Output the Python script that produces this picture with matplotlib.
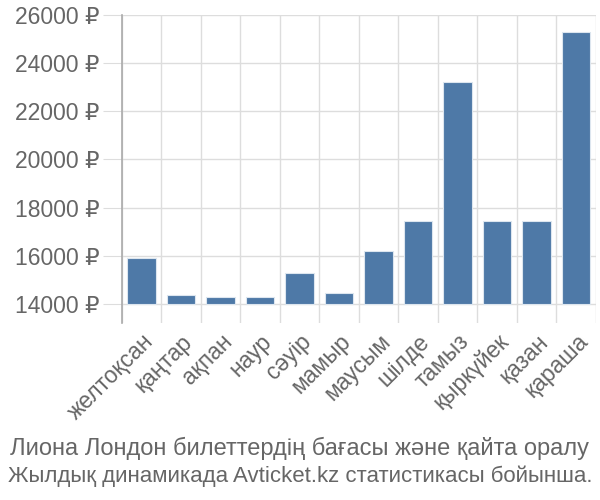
import numpy as np
import matplotlib
matplotlib.use("Agg")
import matplotlib.pyplot as plt
from matplotlib.ticker import FixedLocator

plt.rcParams['font.family'] = ['Liberation Sans', 'DejaVu Sans']

months = ["желтоқсан", "қаңтар", "ақпан", "наур", "сәуір", "мамыр",
          "маусым", "шілде", "тамыз", "қыркүйек", "қазан", "қараша"]
prices = [15900, 14370, 14270, 14270, 15270, 14460,
          16180, 17450, 23220, 17450, 17450, 25300]
yticks = [14000, 16000, 18000, 20000, 22000, 24000, 26000]
base = 14000

fig = plt.figure(figsize=(6, 5), dpi=100)
ax = fig.add_axes([0.203, 0.354, 0.79, 0.616])

x = np.arange(len(months))
vals = np.array(prices) - base
ax.bar(x, vals, bottom=base, width=0.72, color="#4e79a7",
       edgecolor="#dde6ef", linewidth=0.8, zorder=3)

ax.set_xlim(-0.5, len(months) - 0.5)
ax.set_ylim(13210, 26000)

ax.set_yticks(yticks)
ax.set_yticklabels([f"{v} ₽" for v in yticks], fontsize=16.5, color="#666666")
ax.set_xticks(x)
ax.set_xticklabels(months, rotation=45, ha="right", rotation_mode="anchor",
                   fontsize=16.5, color="#666666")
ax.xaxis.set_minor_locator(FixedLocator(np.arange(-0.5, len(months), 1)))

ax.grid(axis="y", color="#dddddd", linewidth=1, zorder=0)
ax.grid(axis="x", which="minor", color="#dddddd", linewidth=1, zorder=0)
ax.tick_params(axis="y", length=14, color="#dddddd", pad=2)
ax.tick_params(axis="x", which="major", length=0, pad=5)
ax.tick_params(axis="x", which="minor", length=0)

for s in ["top", "right", "bottom"]:
    ax.spines[s].set_visible(False)
ax.spines["left"].set_color("#aaaaaa")
ax.spines["left"].set_linewidth(1.2)

fig.text(0.5, 0.09, "Лиона Лондон билеттердің бағасы және қайта оралу",
         ha="center", fontsize=17, color="#666666")
fig.text(0.5, 0.036, "Жылдық динамикада Avticket.kz статистикасы бойынша.",
         ha="center", fontsize=16, color="#666666")

fig.savefig("out.png", dpi=100)
